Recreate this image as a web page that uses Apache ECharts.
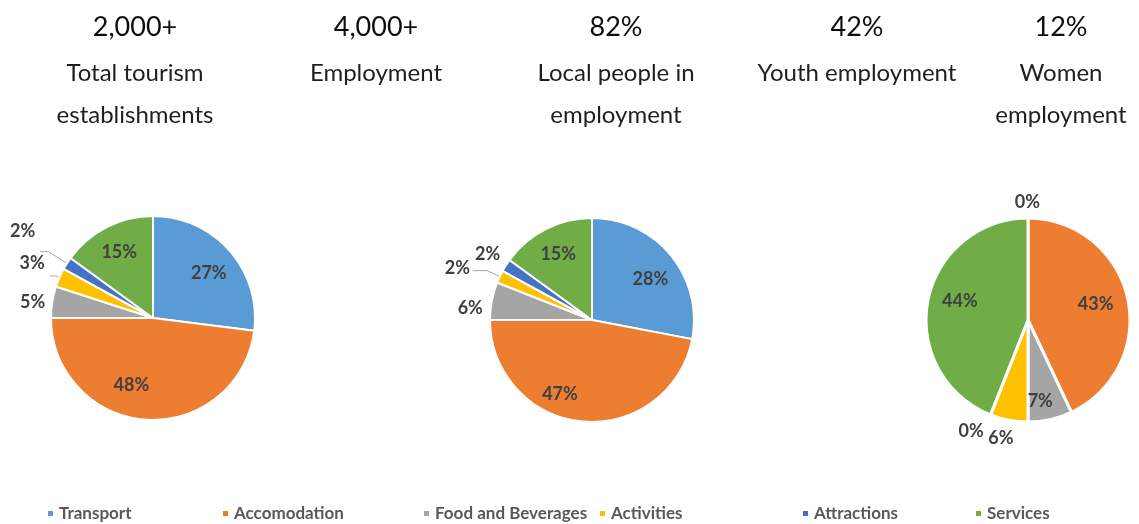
<!DOCTYPE html>
<html>
<head>
<meta charset="utf-8">
<title>Tourism establishments and employment</title>
<script src="https://cdn.jsdelivr.net/npm/echarts@6/dist/echarts.min.js"></script>
<style>
  html, body { margin: 0; padding: 0; background: #ffffff; }
  #chart { width: 1139px; height: 524px; }
</style>
</head>
<body>
<div id="chart"></div>
<script>
// Sector categories shared by all three pies
const categories = ['Transport', 'Accomodation', 'Food and Beverages', 'Activities', 'Attractions', 'Services'];

// Share (%) of each sector
const establishmentsShare = [27, 48, 5, 3, 2, 15];
const employmentShare = [28, 47, 6, 2, 2, 15];
const womenEmploymentShare = [0, 43, 7, 6, 0, 44];

// Headline figures across the top
const statValues = ['2,000+', '4,000+', '82%', '42%', '12%'];
const statLabels = ['Total tourism\nestablishments', 'Employment', 'Local people in\nemployment', 'Youth employment', 'Women\nemployment'];

const sectorColors = ['#5B9BD5', '#ED7D31', '#A5A5A5', '#FFC000', '#4472C4', '#70AD47'];
const FONT = 'Lato, "Open Sans", "Noto Sans", sans-serif';

// Layout for the headline blocks, pies and legend entries
const statCenters = [135, 376, 616, 857, 1061];
const legendLefts = [46, 221, 422, 598, 801, 974];
// leaders: [length, length2] of the leader line per slice index
// nudges / innerNudges: small [dx, dy] shifts of outside / inside labels per slice index
const pieLayouts = [
  { shares: establishmentsShare, center: [153, 318], border: 2,
    leaders: { 3: [4, 6], 4: [22, 8] },
    nudges: { 3: [0, -13], 4: [0, -20] },
    innerNudges: { 0: [0, 4], 1: [-17, -7] } },
  { shares: employmentShare, center: [592, 320], border: 2,
    leaders: { 3: [14, 14] },
    nudges: { 2: [-2, 8], 3: [2, -2], 4: [1, -10] },
    innerNudges: { 0: [1, 7], 1: [-25, 0] } },
  { shares: womenEmploymentShare, center: [1028, 320], border: 3,
    leaders: {},
    nudges: { 0: [17, -14], 3: [10, 16], 4: [-1, 14] },
    innerNudges: { 1: [-5, 0], 2: [-4, 9], 5: [5, -5] } }
];
const PIE_R = 102;
const OUTSIDE_BELOW = 7; // shares under this are labelled outside their slice

const labelText = {
  fontFamily: FONT,
  fontWeight: 'bold',
  fontSize: 18,
  color: '#404040'
};

function nudgeBy(map) {
  return function (params) {
    const n = map[params.dataIndex];
    return n ? { dx: n[0], dy: n[1] } : {};
  };
}

const series = [];
pieLayouts.forEach(function (p) {
  // Visible slices; small shares carry their label outside
  series.push({
    type: 'pie',
    center: p.center,
    radius: PIE_R,
    startAngle: 90,
    clockwise: true,
    avoidLabelOverlap: false,
    emphasis: { disabled: true },
    itemStyle: { borderColor: '#ffffff', borderWidth: p.border },
    label: Object.assign({ formatter: '{c}%', overflow: 'none' }, labelText),
    labelLine: { lineStyle: { color: '#A6A6A6', width: 1 } },
    labelLayout: nudgeBy(p.nudges),
    data: categories.map(function (name, i) {
      const v = p.shares[i];
      const outside = v < OUTSIDE_BELOW;
      const lead = p.leaders[i];
      return {
        name: name,
        value: v,
        itemStyle: { color: sectorColors[i] },
        label: outside ? { show: true, position: 'outside' } : { show: false },
        labelLine: {
          show: !!lead,
          length: lead ? lead[0] : 2,
          length2: lead ? lead[1] : 0
        }
      };
    })
  });
  // Transparent ring used only to place the larger labels further out in their slices
  series.push({
    type: 'pie',
    center: p.center,
    radius: PIE_R * 1.4,
    startAngle: 90,
    clockwise: true,
    silent: true,
    avoidLabelOverlap: false,
    emphasis: { disabled: true },
    itemStyle: { color: 'rgba(0,0,0,0)', borderWidth: 0 },
    labelLine: { show: false },
    label: Object.assign({ position: 'inside', formatter: '{c}%' }, labelText),
    labelLayout: nudgeBy(p.innerNudges),
    data: categories.map(function (name, i) {
      const v = p.shares[i];
      return {
        name: name,
        value: v,
        itemStyle: { color: 'rgba(0,0,0,0)' },
        label: { show: v >= OUTSIDE_BELOW }
      };
    })
  });
});

const titles = statValues.map(function (v, i) {
  return {
    text: v,
    subtext: statLabels[i],
    left: statCenters[i],
    textAlign: 'center',
    top: 14,
    padding: 0,
    itemGap: 11,
    textStyle: { fontFamily: FONT, fontSize: 27, fontWeight: 'normal', color: '#0d0d0d' },
    subtextStyle: { fontFamily: FONT, fontSize: 24, color: '#1f1f1f', lineHeight: 42 }
  };
});

const legends = categories.map(function (name, i) {
  return {
    data: [name],
    left: legendLefts[i],
    top: 505,
    icon: 'rect',
    itemWidth: 7,
    itemHeight: 7,
    padding: 0,
    textStyle: { fontFamily: FONT, fontSize: 17, fontWeight: 'bold', color: '#595959' }
  };
});

const chart = echarts.init(document.getElementById('chart'), null, { renderer: 'canvas' });
chart.setOption({
  backgroundColor: '#ffffff',
  animation: false,
  color: sectorColors,
  title: titles,
  legend: legends,
  series: series
});
</script>
</body>
</html>
